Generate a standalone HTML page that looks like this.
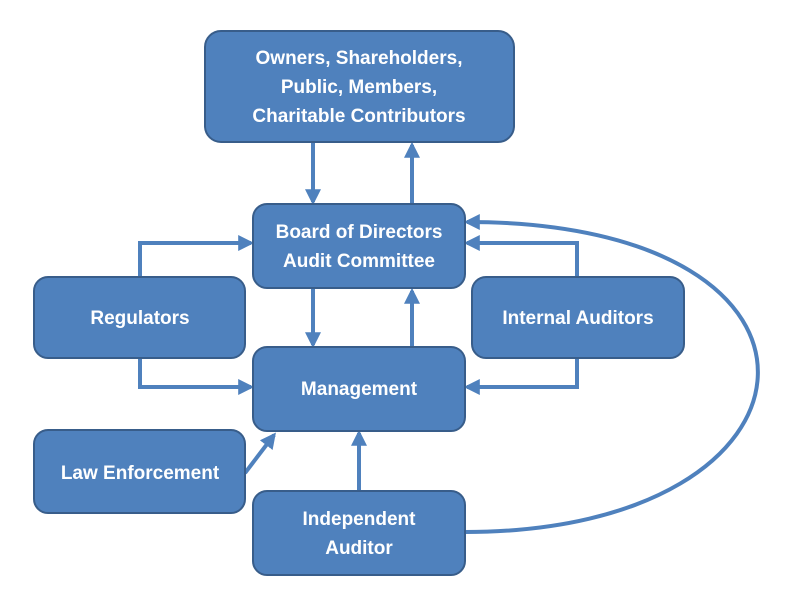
<!DOCTYPE html>
<html><head><style>
html,body{margin:0;padding:0;background:#fff;}
svg{display:block;}
text{font-family:"Liberation Sans",sans-serif;font-weight:bold;font-size:19px;fill:#fff;text-anchor:middle;}
</style></head><body>
<svg width="793" height="604" viewBox="0 0 793 604" xmlns="http://www.w3.org/2000/svg">
<defs>
<marker id="a" markerWidth="4" markerHeight="4" refX="3.2" refY="2" orient="auto" markerUnits="strokeWidth">
<path d="M0,0 L4,2 L0,4 z" fill="#4F81BD"/>
</marker>
</defs>
<g stroke="#4F81BD" stroke-width="4" fill="none">
<line x1="313" y1="143" x2="313" y2="202" marker-end="url(#a)"/>
<line x1="412" y1="204" x2="412" y2="145" marker-end="url(#a)"/>
<line x1="313" y1="289" x2="313" y2="345" marker-end="url(#a)"/>
<line x1="412" y1="347" x2="412" y2="291" marker-end="url(#a)"/>
<polyline points="140,277 140,243 251,243" marker-end="url(#a)"/>
<polyline points="140,358 140,387 251,387" marker-end="url(#a)"/>
<polyline points="577,277 577,243 467,243" marker-end="url(#a)"/>
<polyline points="577,358 577,387 467,387" marker-end="url(#a)"/>
<line x1="245" y1="473" x2="274" y2="435" marker-end="url(#a)"/>
<line x1="359" y1="491" x2="359" y2="433" marker-end="url(#a)"/>
<path d="M465,532 C840,532 870,222 467,222" marker-end="url(#a)"/>
</g>
<g fill="#4F81BD" stroke="#385D8A" stroke-width="2">
<rect x="205" y="31" width="309" height="111" rx="16"/>
<rect x="253" y="204" width="212" height="84" rx="14"/>
<rect x="34" y="277" width="211" height="81" rx="14"/>
<rect x="472" y="277" width="212" height="81" rx="14"/>
<rect x="253" y="347" width="212" height="84" rx="14"/>
<rect x="34" y="430" width="211" height="83" rx="14"/>
<rect x="253" y="491" width="212" height="84" rx="14"/>
</g>
<text x="359" y="64">Owners, Shareholders,</text>
<text x="359" y="93">Public, Members,</text>
<text x="359" y="122">Charitable Contributors</text>
<text x="359" y="238">Board of Directors</text>
<text x="359" y="267">Audit Committee</text>
<text x="140" y="324">Regulators</text>
<text x="578" y="324">Internal Auditors</text>
<text x="359" y="395">Management</text>
<text x="140" y="479">Law Enforcement</text>
<text x="359" y="525">Independent</text>
<text x="359" y="554">Auditor</text>
</svg>
</body></html>
